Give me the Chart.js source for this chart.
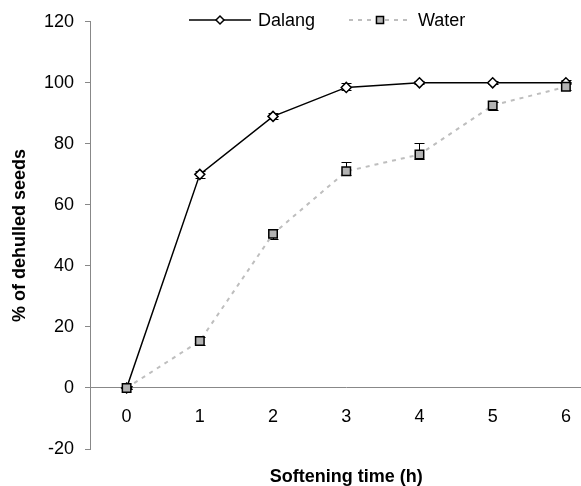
<!DOCTYPE html>
<html>
<head>
<meta charset="utf-8">
<script src="https://cdn.jsdelivr.net/npm/chart.js@4.4.0/dist/chart.umd.min.js"></script>
<style>
  body { margin: 0; background: #fff; }
  #wrap { width: 581px; height: 486px; overflow: hidden; }
</style>
</head>
<body>
<div id="wrap"><canvas id="myChart" width="610" height="486"></canvas></div>
<script>
const hours = ['0', '1', '2', '3', '4', '5', '6'];
const dalang = [0, 70, 89, 98.5, 100, 100, 100];
const water = [0, 15.4, 50.5, 71, 76.5, 92.6, 98.7];
// error bars (plus / minus)
const dalangErrUp = [0.5, 1.2, 1, 1.5, 0.5, 0.5, 0.8];
const dalangErrDown = [0.5, 1.2, 1, 1, 0.5, 0.5, 0.5];
const waterErrUp = [0.5, 1.3, 1.6, 3.2, 3.7, 1.1, 1.2];
const waterErrDown = [0.5, 1.3, 1.6, 1.2, 1.4, 1.4, 1.2];
const yTicks = [-20, 0, 20, 40, 60, 80, 100, 120];

Chart.defaults.font.family = '"Liberation Sans", Arial, sans-serif';
Chart.defaults.color = '#000';

const axisGray = '#888';

const errorBars = {
    id: 'errorBars',
    beforeDatasetsDraw(chart) {
        const ctx = chart.ctx;
        const xs = chart.scales.x, ys = chart.scales.y;
        ctx.save();
        ctx.strokeStyle = '#000';
        ctx.lineWidth = 1;
        chart.data.datasets.forEach(ds => {
            ds.data.forEach((v, i) => {
                const px = Math.round(xs.getPixelForValue(i)) + 0.5;
                const top = Math.round(ys.getPixelForValue(v + ds.errUp[i])) + 0.5;
                const bot = Math.round(ys.getPixelForValue(v - ds.errDown[i])) + 0.5;
                ctx.beginPath();
                ctx.moveTo(px, top); ctx.lineTo(px, bot);
                ctx.moveTo(px - 5, top); ctx.lineTo(px + 5, top);
                ctx.moveTo(px - 5, bot); ctx.lineTo(px + 5, bot);
                ctx.stroke();
            });
        });
        ctx.restore();
    }
};

// legend with a line sample and marker, like the original
const lineLegend = {
    id: 'lineLegend',
    afterDraw(chart) {
        const ctx = chart.ctx;
        const y = 20;
        let x = 189;
        chart.data.datasets.forEach(ds => {
            ctx.save();
            ctx.strokeStyle = ds.borderColor;
            ctx.lineWidth = ds.borderWidth;
            ctx.setLineDash(ds.borderDash || []);
            ctx.beginPath();
            ctx.moveTo(x, y); ctx.lineTo(x + 62, y);
            ctx.stroke();
            ctx.setLineDash([]);
            ctx.fillStyle = ds.pointBackgroundColor;
            ctx.strokeStyle = ds.pointBorderColor;
            ctx.lineWidth = ds.pointBorderWidth;
            Chart.helpers.drawPoint(ctx, {
                pointStyle: ds.pointStyle,
                radius: ds.pointRadius - 1,
                borderWidth: ds.pointBorderWidth,
                rotation: 0
            }, x + 31, y);
            ctx.fillStyle = '#000';
            ctx.font = '18px "Liberation Sans", Arial, sans-serif';
            ctx.textBaseline = 'middle';
            ctx.fillText(ds.label, x + 69, y + 1);
            ctx.restore();
            x += 160;
        });
    }
};

const ctx = document.getElementById('myChart').getContext('2d');

const myChart = new Chart(ctx, {
    type: 'line',
    data: {
        labels: hours,
        datasets: [{
            label: 'Dalang',
            data: dalang,
            errUp: dalangErrUp,
            errDown: dalangErrDown,
            xAxisID: 'x',
            order: 1,
            borderColor: '#000',
            borderWidth: 1.5,
            pointStyle: 'rectRot',
            pointRadius: 5,
            pointHoverRadius: 5,
            pointBackgroundColor: '#fff',
            pointBorderColor: '#000',
            pointBorderWidth: 1.5,
            tension: 0
        }, {
            label: 'Water',
            data: water,
            errUp: waterErrUp,
            errDown: waterErrDown,
            xAxisID: 'x',
            order: 0,
            borderColor: '#bebebe',
            borderWidth: 2,
            borderDash: [4, 5],
            pointStyle: 'rect',
            pointRadius: 6,
            pointHoverRadius: 6,
            pointBackgroundColor: '#b3b3b3',
            pointBorderColor: '#000',
            pointBorderWidth: 1.5,
            tension: 0
        }]
    },
    options: {
        responsive: false,
        animation: false,
        layout: { padding: { top: 20, right: 0, bottom: 0, left: 0 } },
        scales: {
            x: {
                type: 'category',
                offset: true,
                position: { y: 0 },
                grid: { display: false, drawTicks: false },
                border: { display: true, color: axisGray, width: 1 },
                ticks: { font: { size: 18 }, padding: 18, maxRotation: 0 }
            },
            x2: {
                type: 'linear',
                position: 'bottom',
                ticks: { display: false },
                grid: { display: false, drawTicks: false },
                border: { display: false },
                title: {
                    display: true,
                    text: 'Softening time (h)',
                    font: { size: 18, weight: 'bold', lineHeight: 1 },
                    padding: { top: 19, bottom: 0 }
                }
            },
            y: {
                min: yTicks[0],
                max: yTicks[yTicks.length - 1],
                afterBuildTicks: scale => { scale.ticks = yTicks.map(v => ({ value: v })); },
                afterFit: scale => { scale.width = 90; },
                grid: { drawOnChartArea: false, drawTicks: true, tickLength: 5, color: axisGray },
                border: { color: axisGray, width: 1 },
                ticks: { font: { size: 18 }, padding: 11 },
                title: {
                    display: true,
                    text: '% of dehulled seeds',
                    font: { size: 18, weight: 'bold' },
                    padding: { top: 9, bottom: 0 }
                }
            }
        },
        plugins: {
            legend: { display: false },
            tooltip: { enabled: false }
        }
    },
    plugins: [errorBars, lineLegend]
});
</script>
</body>
</html>
